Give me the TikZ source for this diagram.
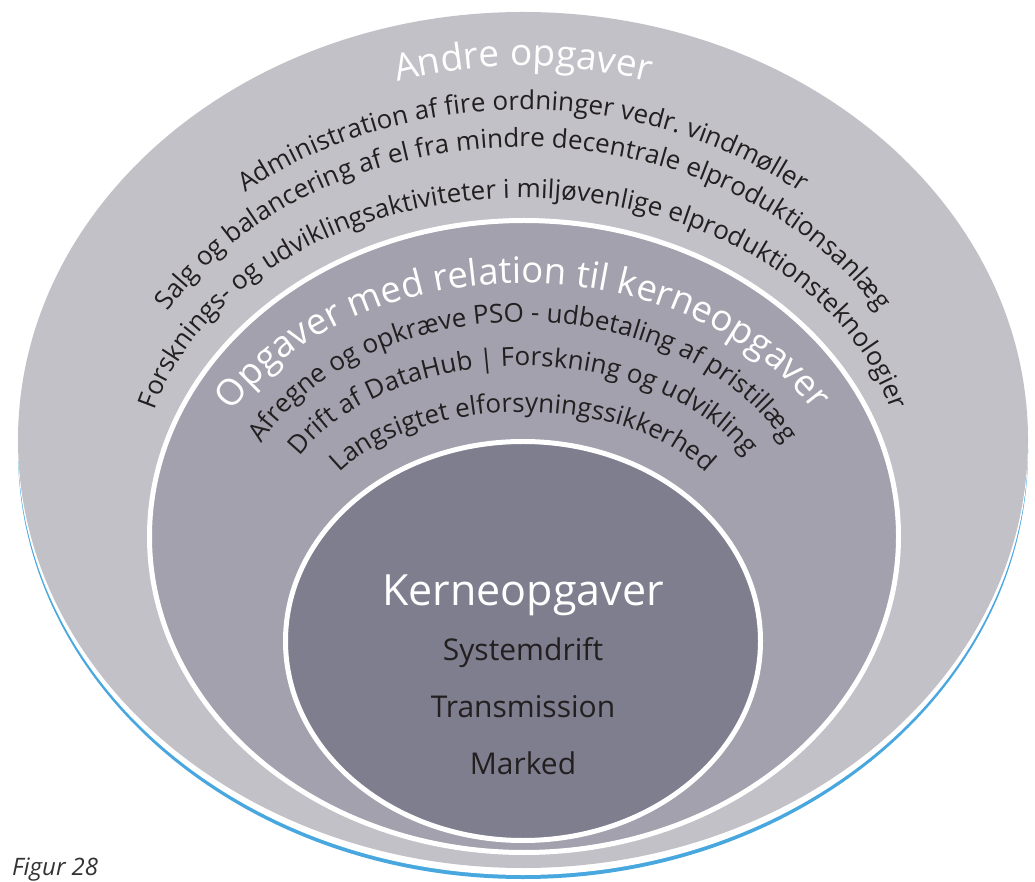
\documentclass[tikz,border=0pt]{standalone}
\usepackage{fontspec}
\setmainfont{Open Sans}
\usetikzlibrary{decorations.text}
\definecolor{outerc}{HTML}{C2C1C7}
\definecolor{midc}{HTML}{A2A1AD}
\definecolor{innc}{HTML}{7F7E8E}
\definecolor{bluec}{HTML}{48A7DE}
\definecolor{txtc}{HTML}{231F20}
\newcommand\arctext[6]{%
  \path[decorate, decoration={text along path, text align=center, text={|#5|#6}}]
    (#1,#2) ++(195:#3pt and #4pt) arc[start angle=195, end angle=-15, x radius=#3pt, y radius=#4pt];}
\tikzset{
  inline/.style={txtc, font=\fontsize{30}{30}\selectfont, anchor=base},
}
\begin{document}
\begin{tikzpicture}[x=1pt,y=1pt]
\useasboundingbox (0,0) rectangle (1035,881);
\fill[white] (0,0) rectangle (1035,881);
% outer ring with blue shadow line
\fill[bluec] (523,430) ellipse [x radius=505pt, y radius=428pt];
\fill[white] (523,434) ellipse [x radius=505pt, y radius=428pt];
\fill[outerc] (523,441) ellipse [x radius=505pt, y radius=428pt];
% middle
\draw[white, line width=5pt, fill=midc] (524,344.5) ellipse [x radius=374.5pt, y radius=316pt];
% inner
\draw[white, line width=5pt, fill=innc] (523,240) ellipse [x radius=237.5pt, y radius=199.5pt];
% outer texts
\arctext{523}{401}{460}{414}{\color{white}\fontsize{37}{37}\selectfont}{Andre opgaver}
\arctext{523}{401}{441}{370}{\color{txtc}\fontsize{26}{26}\selectfont}{Administration af fire ordninger vedr. vindmøller}
\arctext{523}{401}{412}{333}{\color{txtc}\fontsize{26}{26}\selectfont}{Salg og balancering af el fra mindre decentrale elproduktionsanlæg}
\arctext{523}{401}{380}{282}{\color{txtc}\fontsize{26}{26}\selectfont}{Forsknings- og udviklingsaktiviteter i miljøvenlige elproduktionsteknologier}
% middle texts
\arctext{523}{345}{334}{253}{\color{white}\fontsize{36.5}{36.5}\selectfont}{Opgaver med relation til kerneopgaver}
\arctext{523}{345}{290}{214}{\color{txtc}\fontsize{26}{26}\selectfont}{Afregne og opkræve PSO - udbetaling af pristillæg}
\arctext{523}{345}{253}{170}{\color{txtc}\fontsize{26}{26}\selectfont}{Drift af DataHub {\textbar} Forskning og udvikling}
\arctext{523}{345}{213}{124}{\color{txtc}\fontsize{26}{26}\selectfont}{Langsigtet elforsyningssikkerhed}
% inner texts
\node[white, font=\fontsize{43}{43}\selectfont, anchor=base] (kerne) at (523,276) {Kerneopgaver};
\node[inline] (sys) at (523,221) {Systemdrift};
\node[inline] (trans) at (523,164) {Transmission};
\node[inline] (mark) at (523,107) {Marked};
\node[anchor=base west, inner sep=0pt, text=black!80, font=\fontsize{24}{24}\selectfont\itshape] (fig) at (12,6) {Figur 28};
\end{tikzpicture}
\end{document}
